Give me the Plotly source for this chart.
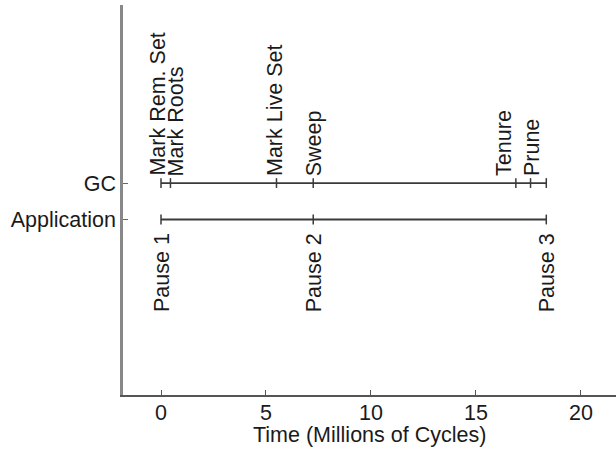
import plotly.graph_objects as go

# ---- data ----
rows = ["Application", "GC"]
row_pos = [0, 1]

gc_events = ["Mark Rem. Set", "Mark Roots", "Mark Live Set", "Sweep", "Tenure", "Prune", ""]
gc_times = [0.0, 0.45, 5.5, 7.25, 16.9, 17.6, 18.35]

app_events = ["Pause 1", "Pause 2", "Pause 3"]
app_times = [0.0, 7.25, 18.35]

x_ticks = [0, 5, 10, 15, 20]
x_title = "Time (Millions of Cycles)"

# ---- style ----
FONT = "Liberation Sans, Arial, Helvetica, sans-serif"
FS = 21.5
TXT = "#1a1a1a"
LINE = "#3a3a3a"
# horizontal pixel nudges for labels (layout only)
gc_label_dx = [-3, 6, -2, 1, -12, 1, 0]

fig = go.Figure()

fig.add_trace(go.Scatter(
    x=gc_times, y=[row_pos[1]] * len(gc_times), mode="lines+markers",
    line=dict(color=LINE, width=1.8),
    marker=dict(symbol="line-ns-open", size=7, line=dict(color=LINE, width=1.5)),
    hoverinfo="skip", showlegend=False))

fig.add_trace(go.Scatter(
    x=app_times, y=[row_pos[0]] * len(app_times), mode="lines+markers",
    line=dict(color=LINE, width=1.8),
    marker=dict(symbol="line-ns-open", size=7, line=dict(color=LINE, width=1.5)),
    hoverinfo="skip", showlegend=False))

for name, t, dx in zip(gc_events, gc_times, gc_label_dx):
    if not name:
        continue
    fig.add_annotation(x=t, y=row_pos[1], text=name, textangle=-90,
                       showarrow=False, xanchor="center", yanchor="bottom",
                       xshift=dx, yshift=5,
                       font=dict(family=FONT, size=FS, color=TXT))

for name, t in zip(app_events, app_times):
    fig.add_annotation(x=t, y=row_pos[0], text=name, textangle=-90,
                       showarrow=False, xanchor="center", yanchor="top",
                       xshift=1, yshift=-12,
                       font=dict(family=FONT, size=FS, color=TXT))

# x-axis title as a paper-anchored annotation
fig.add_annotation(x=0.5, y=0, xref="paper", yref="paper", text=x_title,
                   showarrow=False, xanchor="center", yanchor="middle", yshift=-40,
                   font=dict(family=FONT, size=FS, color=TXT))

fig.update_layout(
    width=616, height=449,
    margin=dict(l=123, r=0, t=5, b=54, autoexpand=False),
    paper_bgcolor="white", plot_bgcolor="white",
    font=dict(family=FONT, size=FS, color=TXT),
    xaxis=dict(range=[-1.81, 21.67], tickvals=x_ticks, ticks="inside", ticklen=5,
               tickcolor="#555", showline=True, linecolor="#555", linewidth=2,
               showgrid=False, zeroline=False, automargin=False,
               tickfont=dict(size=FS), ticklabelstandoff=-3),
    yaxis=dict(range=[-4.81, 5.88], tickvals=row_pos, ticktext=rows, ticks="inside",
               ticklen=5, tickcolor="#666", showline=True, linecolor="#888", linewidth=2.5,
               showgrid=False, zeroline=False, tickfont=dict(size=FS), automargin=False,
               ticklabelstandoff=0),
)

fig.write_html("out.html", config={"displayModeBar": False},
               post_script="document.body.style.margin='0';document.body.style.overflow='hidden';")
